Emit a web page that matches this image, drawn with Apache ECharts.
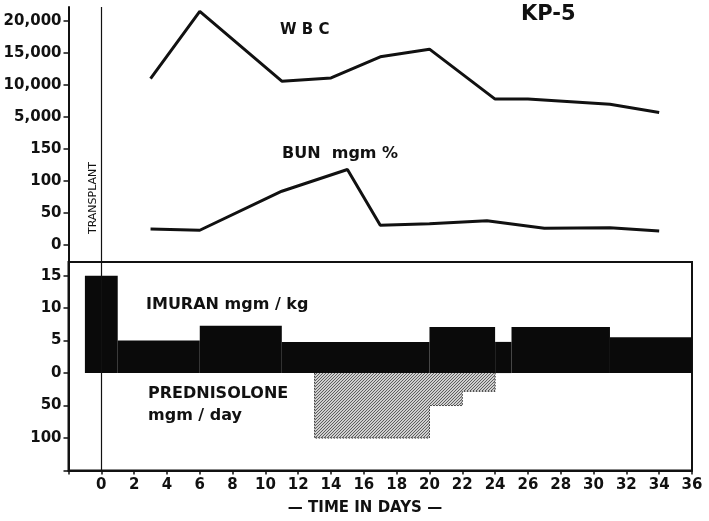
<!DOCTYPE html>
<html>
<head>
<meta charset="utf-8">
<script src="https://cdn.jsdelivr.net/npm/echarts@6/dist/echarts.min.js"></script>
<style>
html,body{margin:0;padding:0;background:#fff;}
#chart{width:709px;height:521px;}
</style>
</head>
<body>
<div id="chart"></div>
<script>
// ---- data ----
const wbcDays   = [3, 6, 11, 14, 17, 20, 24, 26, 31, 34];
const wbcValues = [11000, 21500, 10600, 11100, 14400, 15600, 7800, 7800, 7000, 5700];

const bunDays   = [3, 6, 11, 15, 17, 20, 23.5, 27, 31, 34];
const bunValues = [25, 23, 84, 118, 31, 33, 38, 26, 27, 22];

const imuranStart = [-1, 1, 6, 11, 20, 24, 25, 31];
const imuranEnd   = [1, 6, 11, 20, 24, 25, 31, 36];
const imuranDose  = [15, 5, 7.3, 4.8, 7.1, 4.8, 7.1, 5.5];

const predStart = [13, 20, 22];
const predEnd   = [20, 22, 24];
const predDose  = [100, 50, 28];

const bunTicks    = [0, 50, 100, 150];
const wbcTicks    = [5000, 10000, 15000, 20000];
const imuranTicks = [0, 5, 10, 15];
const predTicks   = [50, 100, 150];

// ---- hatch pattern ----
const pc = document.createElement('canvas');
pc.width = 6; pc.height = 6;
const g = pc.getContext('2d');
g.fillStyle = '#d0d0d0'; g.fillRect(0,0,6,6);
g.strokeStyle = 'rgba(40,40,40,0.85)'; g.lineWidth = 0.8;
g.beginPath();
for (let k = -6; k <= 12; k += 3) { g.moveTo(k, 6); g.lineTo(k + 6, 0); }
g.stroke();

const FONT = 'DejaVu Sans';
const chart = echarts.init(document.getElementById('chart'), null, {renderer:'canvas'});

function imuranRender(params, api) {
  const p0 = api.coord([api.value(0), 0]);
  const p1 = api.coord([api.value(1), api.value(2)]);
  return {
    type: 'rect',
    shape: {x: p0[0], y: p1[1], width: p1[0] - p0[0], height: p0[1] - p1[1]},
    style: {fill: '#0a0a0a'}
  };
}

// step outline for prednisolone, built from the data arrays
const predStep = [[predStart[0], 0]];
predStart.forEach((s, i) => predStep.push([s, predDose[i]]));
predStep.push([predEnd[predEnd.length - 1], 0]);

const labelStyle = {color:'#111', fontFamily: FONT, fontWeight:'bold', fontSize: 15};

chart.setOption({
  backgroundColor: '#fff',
  animation: false,
  grid: [
    {left: 68.5, right: 17, top: 7, height: 255, show: false},
    {left: 68.5, right: 17, top: 262, height: 208.5, show: true, borderColor: '#111', borderWidth: 2, backgroundColor: 'transparent'}
  ],
  xAxis: [
    {gridIndex: 0, type: 'value', min: -2, max: 36, show: false},
    {gridIndex: 1, type: 'value', min: -2, max: 36, interval: 2,
     axisLine: {show: true, onZero: false, lineStyle: {color: '#111', width: 2}},
     axisTick: {show: true, length: 4, lineStyle: {color: '#111', width: 1.5}},
     splitLine: {show: false},
     axisLabel: Object.assign({}, labelStyle, {fontSize: 15, margin: 7,
       formatter: v => v < 0 ? '' : String(v)})
    }
  ],
  yAxis: [
    {gridIndex: 0, type: 'value', min: -26.6, max: 371.9,
     axisLine: {show: true, onZero: false, lineStyle: {color: '#111', width: 2}},
     axisTick: {show: true, length: 5, customValues: bunTicks, lineStyle:{color:'#111', width:1.5}},
     axisLabel: Object.assign({}, labelStyle, {customValues: bunTicks, margin: 7}),
     splitLine: {show: false}},
    {gridIndex: 0, type: 'value', min: -17660, max: 22190, position: 'left',
     axisLine: {show: false, onZero: false},
     axisTick: {show: true, length: 5, customValues: wbcTicks, lineStyle:{color:'#111', width:1.5}},
     axisLabel: Object.assign({}, labelStyle, {customValues: wbcTicks, margin: 7,
       formatter: v => v.toLocaleString('en-US')}),
     splitLine: {show: false}},
    {gridIndex: 1, type: 'value', min: -15, max: 17.1,
     axisLine: {show: true, onZero: false, lineStyle: {color: '#111', width: 2}},
     axisTick: {show: true, length: 5, customValues: imuranTicks, lineStyle:{color:'#111', width:1.5}},
     axisLabel: Object.assign({}, labelStyle, {customValues: imuranTicks, margin: 7}),
     splitLine: {show: false}},
    {gridIndex: 1, type: 'value', min: -171, max: 150, inverse: true, position: 'left',
     axisLine: {show: false, onZero: false},
     axisTick: {show: true, length: 5, customValues: predTicks, lineStyle:{color:'#111', width:1.5}},
     axisLabel: Object.assign({}, labelStyle, {customValues: predTicks, margin: 7,
       formatter: v => v >= 150 ? '' : String(v)}),
     splitLine: {show: false}}
  ],
  series: [
    {type: 'line', name: 'WBC', xAxisIndex: 0, yAxisIndex: 1,
     data: wbcDays.map((d, i) => [d, wbcValues[i]]),
     symbol: 'none', lineStyle: {color: '#111', width: 3}, z: 3,
     markLine: {silent: true, symbol: 'none', label: {show: false},
       lineStyle: {color: '#111', width: 1.2, type: 'solid'},
       data: [{xAxis: 0}]}},
    {type: 'line', name: 'BUN', xAxisIndex: 0, yAxisIndex: 0,
     data: bunDays.map((d, i) => [d, bunValues[i]]),
     symbol: 'none', lineStyle: {color: '#111', width: 3}, z: 3},
    {type: 'line', name: 'Prednisolone', xAxisIndex: 1, yAxisIndex: 3,
     data: predStep, step: 'end', symbol: 'none',
     lineStyle: {color: '#222', width: 1, type: [1.5, 1.5]},
     areaStyle: {color: {image: pc, repeat: 'repeat'}, opacity: 1, origin: 0},
     z: 2},
    {type: 'custom', name: 'Imuran', xAxisIndex: 1, yAxisIndex: 2,
     data: imuranStart.map((s, i) => [s, imuranEnd[i], imuranDose[i]]),
     encode: {x: [0, 1], y: 2},
     renderItem: imuranRender, z: 3,
     markLine: {silent: true, symbol: 'none', label: {show: false},
       lineStyle: {color: '#111', width: 1.2, type: 'solid'},
       data: [{xAxis: 0}]}}
  ],
  graphic: [
    {type: 'text', left: 521, top: 4, style: {text: 'KP-5', fill: '#111', font: 'bold 21px "DejaVu Sans"'}},
    {type: 'text', left: 280, top: 23, style: {text: 'W B C', fill: '#111', font: 'bold 15px "DejaVu Sans"'}},
    {type: 'text', left: 282, top: 146, style: {text: 'BUN  mgm %', fill: '#111', font: 'bold 16px "DejaVu Sans"'}},
    {type: 'text', left: 146, top: 297, style: {text: 'IMURAN mgm / kg', fill: '#111', font: 'bold 16px "DejaVu Sans"'}},
    {type: 'text', left: 148, top: 386, style: {text: 'PREDNISOLONE', fill: '#111', font: 'bold 16px "DejaVu Sans"'}},
    {type: 'text', left: 148, top: 408, style: {text: 'mgm / day', fill: '#111', font: 'bold 16px "DejaVu Sans"'}},
    {type: 'text', x: 93, y: 198, rotation: Math.PI / 2,
     style: {text: 'TRANSPLANT', fill: '#111', font: '11px "DejaVu Sans"', align: 'center', verticalAlign: 'middle'}},
    {type: 'text', x: 365, y: 508,
     style: {text: '— TIME IN DAYS —', fill: '#111', font: 'bold 15px "DejaVu Sans"', align: 'center', verticalAlign: 'middle'}}
  ]
});
</script>
</body>
</html>
